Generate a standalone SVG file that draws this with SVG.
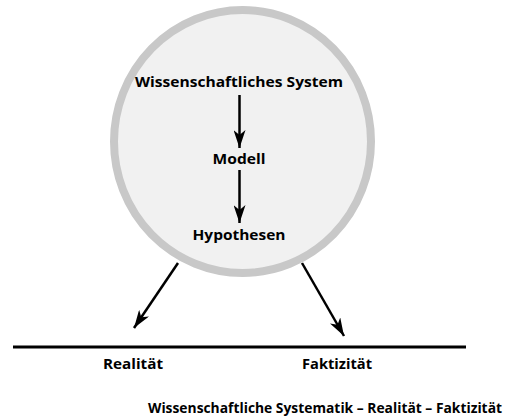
<svg xmlns="http://www.w3.org/2000/svg" width="513" height="418" viewBox="0 0 513 418">
<defs>
<style>
.t{font-family:"Open Sans",Lato,"Liberation Sans",sans-serif;font-weight:bold;font-size:14px;fill:#000;text-anchor:middle}
.c{stroke:#000;stroke-width:2.5;fill:none}
</style>
<marker id="ah" viewBox="0 0 18 12" refX="18" refY="6" markerWidth="7.2" markerHeight="4.8" markerUnits="strokeWidth" orient="auto">
<path d="M0,0 L18,6 L0,12 L5,6 Z" fill="#000"/>
</marker>
</defs>
<rect width="513" height="418" fill="#fff"/>
<g id="circle">
<ellipse cx="242.5" cy="141.5" rx="128.5" ry="131.5" fill="#f1f1f1" stroke="#c8c8c8" stroke-width="8"/>
</g>
<g id="baseline">
<line x1="13" y1="347" x2="466" y2="347" stroke="#000" stroke-width="3"/>
</g>
<g id="connectors">
<line class="c" x1="239.5" y1="95" x2="239.5" y2="148" marker-end="url(#ah)"/>
<line class="c" x1="239.5" y1="170" x2="239.5" y2="223" marker-end="url(#ah)"/>
<line class="c" x1="178" y1="263" x2="134" y2="328" marker-end="url(#ah)"/>
<line class="c" x1="302" y1="263" x2="344" y2="336" marker-end="url(#ah)"/>
</g>
<g id="n1"><text class="t" x="239" y="87" textLength="208" lengthAdjust="spacingAndGlyphs">Wissenschaftliches System</text></g>
<g id="n2"><text class="t" x="239" y="164" textLength="53" lengthAdjust="spacingAndGlyphs">Modell</text></g>
<g id="n3"><text class="t" x="239" y="240" textLength="93" lengthAdjust="spacingAndGlyphs">Hypothesen</text></g>
<g id="n4"><text class="t" x="133" y="369" textLength="60" lengthAdjust="spacingAndGlyphs">Realität</text></g>
<g id="n5"><text class="t" x="337" y="369" textLength="70" lengthAdjust="spacingAndGlyphs">Faktizität</text></g>
<g id="title"><text class="t" x="325" y="413" textLength="354" lengthAdjust="spacingAndGlyphs">Wissenschaftliche Systematik – Realität – Faktizität</text></g>
</svg>
